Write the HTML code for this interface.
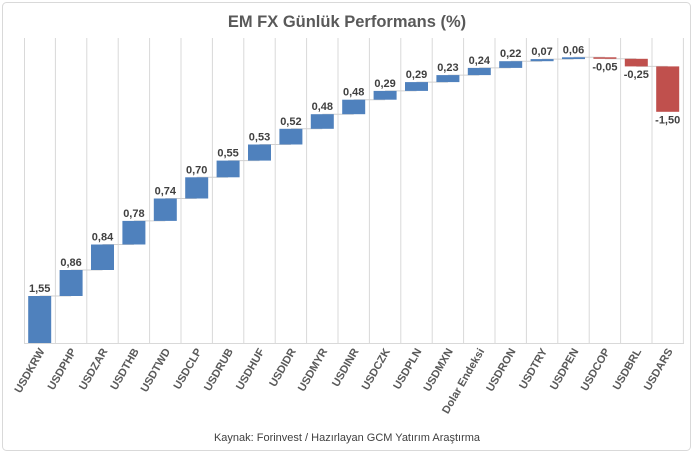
<!DOCTYPE html>
<html><head><meta charset="utf-8"><style>
html,body{margin:0;padding:0;background:#fff}
svg{display:block}
text{font-family:"Liberation Sans",sans-serif}
</style></head><body>
<svg width="694" height="456" viewBox="0 0 694 456" xmlns="http://www.w3.org/2000/svg">
<rect x="2.5" y="2.5" width="688" height="448" rx="4" fill="#fff" stroke="#d9d9d9"/>
<text x="347" y="27" text-anchor="middle" font-size="16.5" font-weight="bold" fill="#595959">EM FX Günlük Performans (%)</text>
<g stroke="#d9d9d9" stroke-width="1">
<line x1="24.5" y1="38" x2="24.5" y2="343"/>
<line x1="55.4" y1="38" x2="55.4" y2="343"/><line x1="86.8" y1="38" x2="86.8" y2="343"/><line x1="118.2" y1="38" x2="118.2" y2="343"/><line x1="149.6" y1="38" x2="149.6" y2="343"/><line x1="181" y1="38" x2="181" y2="343"/><line x1="212.4" y1="38" x2="212.4" y2="343"/><line x1="243.8" y1="38" x2="243.8" y2="343"/><line x1="275.2" y1="38" x2="275.2" y2="343"/><line x1="306.6" y1="38" x2="306.6" y2="343"/><line x1="338" y1="38" x2="338" y2="343"/><line x1="369.4" y1="38" x2="369.4" y2="343"/><line x1="400.8" y1="38" x2="400.8" y2="343"/><line x1="432.2" y1="38" x2="432.2" y2="343"/><line x1="463.6" y1="38" x2="463.6" y2="343"/><line x1="495" y1="38" x2="495" y2="343"/><line x1="526.4" y1="38" x2="526.4" y2="343"/><line x1="557.8" y1="38" x2="557.8" y2="343"/><line x1="589.2" y1="38" x2="589.2" y2="343"/><line x1="620.6" y1="38" x2="620.6" y2="343"/><line x1="652" y1="38" x2="652" y2="343"/><line x1="683.4" y1="38" x2="683.4" y2="343"/>
<line x1="24" y1="343.5" x2="684" y2="343.5"/>
</g>
<g stroke="#d0d0d0" stroke-width="1">
<line x1="39.7" y1="296" x2="71.1" y2="296"/><line x1="71.1" y1="270" x2="102.5" y2="270"/><line x1="102.5" y1="244.5" x2="133.9" y2="244.5"/><line x1="133.9" y1="220.9" x2="165.3" y2="220.9"/><line x1="165.3" y1="198.5" x2="196.7" y2="198.5"/><line x1="196.7" y1="177.3" x2="228.1" y2="177.3"/><line x1="228.1" y1="160.6" x2="259.5" y2="160.6"/><line x1="259.5" y1="144.5" x2="290.9" y2="144.5"/><line x1="290.9" y1="128.8" x2="322.3" y2="128.8"/><line x1="322.3" y1="114.2" x2="353.7" y2="114.2"/><line x1="353.7" y1="99.7" x2="385.1" y2="99.7"/><line x1="385.1" y1="90.9" x2="416.5" y2="90.9"/><line x1="416.5" y1="82.1" x2="447.9" y2="82.1"/><line x1="447.9" y1="75.1" x2="479.3" y2="75.1"/><line x1="479.3" y1="67.9" x2="510.7" y2="67.9"/><line x1="510.7" y1="61.2" x2="542.1" y2="61.2"/><line x1="542.1" y1="59.1" x2="573.5" y2="59.1"/><line x1="573.5" y1="57.3" x2="604.9" y2="57.3"/><line x1="604.9" y1="58.8" x2="636.3" y2="58.8"/><line x1="636.3" y1="66.4" x2="667.7" y2="66.4"/>
</g>
<g fill="#4f81bd">
<rect x="28.2" y="296" width="23" height="47"/><rect x="59.6" y="270" width="23" height="26"/><rect x="91" y="244.5" width="23" height="25.5"/><rect x="122.4" y="220.9" width="23" height="23.6"/><rect x="153.8" y="198.5" width="23" height="22.4"/><rect x="185.2" y="177.3" width="23" height="21.2"/><rect x="216.6" y="160.6" width="23" height="16.7"/><rect x="248" y="144.5" width="23" height="16.1"/><rect x="279.4" y="128.8" width="23" height="15.7"/><rect x="310.8" y="114.2" width="23" height="14.6"/><rect x="342.2" y="99.7" width="23" height="14.5"/><rect x="373.6" y="90.9" width="23" height="8.8"/><rect x="405" y="82.1" width="23" height="8.8"/><rect x="436.4" y="75.1" width="23" height="7"/><rect x="467.8" y="67.9" width="23" height="7.2"/><rect x="499.2" y="61.2" width="23" height="6.7"/><rect x="530.6" y="59.1" width="23" height="2.1"/><rect x="562" y="57.3" width="23" height="1.8"/>
</g>
<g fill="#c0504d">
<rect x="593.4" y="57.3" width="23" height="1.5"/><rect x="624.8" y="58.8" width="23" height="7.6"/><rect x="656.2" y="66.4" width="23" height="45.4"/>
</g>
<g font-size="11" font-weight="bold" fill="#404040" text-anchor="middle">
<text x="39.7" y="292">1,55</text><text x="71.1" y="266">0,86</text><text x="102.5" y="240.5">0,84</text><text x="133.9" y="216.9">0,78</text><text x="165.3" y="194.5">0,74</text><text x="196.7" y="173.3">0,70</text><text x="228.1" y="156.6">0,55</text><text x="259.5" y="140.5">0,53</text><text x="290.9" y="124.8">0,52</text><text x="322.3" y="110.2">0,48</text><text x="353.7" y="95.7">0,48</text><text x="385.1" y="86.9">0,29</text><text x="416.5" y="78.1">0,29</text><text x="447.9" y="71.1">0,23</text><text x="479.3" y="63.9">0,24</text><text x="510.7" y="57.2">0,22</text><text x="542.1" y="55.1">0,07</text><text x="573.5" y="53.3">0,06</text>
<text x="604.9" y="70.5">-0,05</text><text x="636.3" y="78">-0,25</text><text x="667.7" y="123.5">-1,50</text>
</g>
<g font-size="11" font-weight="bold" fill="#595959" text-anchor="end">
<text transform="translate(45,351) rotate(-60)">USDKRW</text>
<text transform="translate(76.4,351) rotate(-60)">USDPHP</text>
<text transform="translate(107.8,351) rotate(-60)">USDZAR</text>
<text transform="translate(139.2,351) rotate(-60)">USDTHB</text>
<text transform="translate(170.6,351) rotate(-60)">USDTWD</text>
<text transform="translate(202,351) rotate(-60)">USDCLP</text>
<text transform="translate(233.4,351) rotate(-60)">USDRUB</text>
<text transform="translate(264.8,351) rotate(-60)">USDHUF</text>
<text transform="translate(296.2,351) rotate(-60)">USDIDR</text>
<text transform="translate(327.6,351) rotate(-60)">USDMYR</text>
<text transform="translate(359,351) rotate(-60)">USDINR</text>
<text transform="translate(390.4,351) rotate(-60)">USDCZK</text>
<text transform="translate(421.8,351) rotate(-60)">USDPLN</text>
<text transform="translate(453.2,351) rotate(-60)">USDMXN</text>
<text transform="translate(484.6,351) rotate(-60)">Dolar Endeksi</text>
<text transform="translate(516,351) rotate(-60)">USDRON</text>
<text transform="translate(547.4,351) rotate(-60)">USDTRY</text>
<text transform="translate(578.8,351) rotate(-60)">USDPEN</text>
<text transform="translate(610.2,351) rotate(-60)">USDCOP</text>
<text transform="translate(641.6,351) rotate(-60)">USDBRL</text>
<text transform="translate(673,351) rotate(-60)">USDARS</text>
</g>
<text x="347" y="441" text-anchor="middle" font-size="11" fill="#404040">Kaynak: Forinvest / Hazırlayan GCM Yatırım Araştırma</text>
</svg>
</body></html>
